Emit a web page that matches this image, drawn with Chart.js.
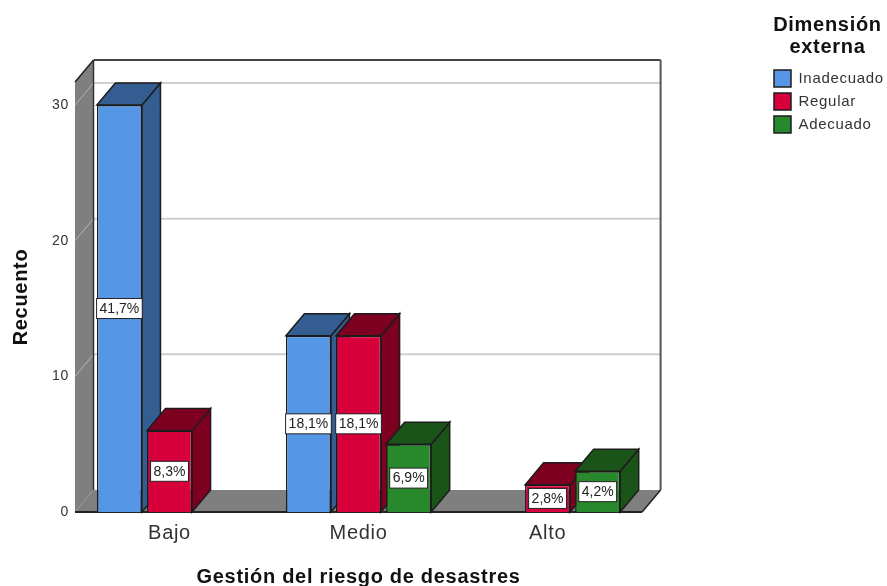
<!DOCTYPE html>
<html>
<head>
<meta charset="utf-8">
<style>
  html, body { margin: 0; padding: 0; background: #fff; }
  #wrap { width: 887px; height: 586px; position: relative; }
</style>
<script src="https://cdn.jsdelivr.net/npm/chart.js@4"></script>
</head>
<body>
<div id="wrap"><canvas id="chart"></canvas></div>
<script>
const categories = ['Bajo', 'Medio', 'Alto']
const inadecuado = [30, 13, null]
const regular = [6, 13, 2]
const adecuado = [null, 5, 3]
const inadecuadoPct = ['41,7%', '18,1%', null]
const regularPct = ['8,3%', '18,1%', '2,8%']
const adecuadoPct = [null, '6,9%', '4,2%']
const yTicks = [0, 10, 20, 30]

const FONT = '"Liberation Sans", Arial, sans-serif'
const DX = 18.5
const DY = -22
const pctLabels = [inadecuadoPct, regularPct, adecuadoPct]
const sideColors = ['#345e92', '#7d0020', '#1a5418']
const edge = '#1c1c1c'

function poly(ctx, pts, fill, stroke, lw) {
  ctx.beginPath()
  pts.forEach((p, i) => i ? ctx.lineTo(p[0], p[1]) : ctx.moveTo(p[0], p[1]))
  ctx.closePath()
  if (fill) { ctx.fillStyle = fill; ctx.fill() }
  if (stroke) { ctx.strokeStyle = stroke; ctx.lineWidth = lw || 1.5; ctx.stroke() }
}

function line(ctx, x1, y1, x2, y2, color, lw) {
  ctx.beginPath()
  ctx.moveTo(x1, y1)
  ctx.lineTo(x2, y2)
  ctx.strokeStyle = color
  ctx.lineWidth = lw
  ctx.stroke()
}

const box3d = {
  id: 'box3d',
  afterLayout(chart) {
    // the legend sits far to the right of the plot, apart from the depth of the box
    const l = chart.legend
    const dx = 768 - l.left
    l.left += dx
    l.right += dx
    const dy = 8 - l.top
    l.top += dy
    l.bottom += dy
  },
  beforeDraw(chart) {
    chart.ctx.letterSpacing = '0.7px'
  },
  beforeDatasetsDraw(chart) {
    const { ctx, chartArea: a, scales } = chart
    const y = scales.y
    const x0 = a.left, x1 = a.right, y0 = a.bottom, yTop = a.top
    ctx.save()
    // left wall and floor
    poly(ctx, [[x0, yTop], [x0 + DX, yTop + DY], [x0 + DX, y0 + DY], [x0, y0]], '#7f7f7f')
    poly(ctx, [[x0, y0], [x0 + DX, y0 + DY], [x1 + DX, y0 + DY], [x1, y0]], '#7f7f7f')
    // grid on the wall and the back
    yTicks.slice(1).forEach(v => {
      const py = y.getPixelForValue(v)
      line(ctx, x0, py, x0 + DX, py + DY, '#b5b5b5', 1)
      line(ctx, x0 + DX, py + DY, x1 + DX, py + DY, '#cfcfcf', 2)
    })
    line(ctx, x0, yTop, x0 + DX, yTop + DY, '#222', 1.5)
    line(ctx, x0 + DX, yTop + DY, x1 + DX, yTop + DY, '#444', 2)
    line(ctx, x0 + DX, yTop + DY, x0 + DX, y0 + DY, '#333', 1.5)
    line(ctx, x1 + DX, yTop + DY, x1 + DX, y0 + DY, '#555', 2)
    line(ctx, x1, y0, x1 + DX, y0 + DY, '#222', 1.5)
    line(ctx, x0, y0, x1, y0, '#222', 2)
    // side and top faces of the bars, left to right
    categories.forEach((c, j) => {
      chart.data.datasets.forEach((ds, i) => {
        if (ds.data[j] == null) return
        const b = chart.getDatasetMeta(i).data[j]
        const l = b.x - b.width / 2, r = b.x + b.width / 2
        poly(ctx, [[r, b.y], [r + DX, b.y + DY], [r + DX, b.base + DY], [r, b.base]], sideColors[i], edge)
        poly(ctx, [[l, b.y], [l + DX, b.y + DY], [r + DX, b.y + DY], [r, b.y]], sideColors[i], edge)
      })
    })
    ctx.restore()
  },
  afterDatasetsDraw(chart) {
    const { ctx } = chart
    ctx.save()
    ctx.font = '14px ' + FONT
    ctx.letterSpacing = '0px'
    ctx.textAlign = 'center'
    ctx.textBaseline = 'middle'
    pctLabels.forEach((labels, i) => {
      labels.forEach((txt, j) => {
        if (!txt) return
        const b = chart.getDatasetMeta(i).data[j]
        const cy = (b.y + b.base) / 2
        const w = ctx.measureText(txt).width + 6
        ctx.fillStyle = '#fff'
        ctx.fillRect(b.x - w / 2, cy - 10, w, 20)
        ctx.strokeStyle = '#222'
        ctx.lineWidth = 1
        ctx.strokeRect(b.x - w / 2, cy - 10, w, 20)
        ctx.fillStyle = '#222'
        ctx.fillText(txt, b.x, cy + 0.5)
      })
    })
    ctx.restore()
  }
}

new Chart(document.getElementById('chart'), {
  type: 'bar',
  plugins: [box3d],
  data: {
    labels: categories,
    datasets: [
      { label: 'Inadecuado', data: inadecuado, backgroundColor: '#5596e6', borderColor: edge, borderWidth: 1.5 },
      { label: 'Regular', data: regular, backgroundColor: '#d7003a', borderColor: edge, borderWidth: 1.5 },
      { label: 'Adecuado', data: adecuado, backgroundColor: '#27892c', borderColor: edge, borderWidth: 1.5 }
    ]
  },
  options: {
    responsive: true,
    maintainAspectRatio: false,
    animation: false,
    layout: { padding: { top: 82, right: 126, bottom: 0, left: 0 } },
    datasets: { bar: { categoryPercentage: 0.795, barPercentage: 0.9 } },
    scales: {
      x: {
        grid: { display: false },
        border: { display: false },
        ticks: { color: '#333', font: { family: FONT, size: 20 }, padding: 1 },
        title: {
          display: true,
          text: 'Gestión del riesgo de desastres',
          color: '#111',
          font: { family: FONT, size: 20, weight: 'bold' },
          padding: { top: 0, bottom: -3 }
        },
        afterFit(scale) { scale.height = 74 }
      },
      y: {
        min: 0,
        max: 31.7,
        afterBuildTicks(scale) { scale.ticks = yTicks.map(value => ({ value })) },
        grid: { display: false },
        border: { display: false },
        ticks: { color: '#333', font: { family: FONT, size: 14 }, padding: -2 },
        title: {
          display: true,
          text: 'Recuento',
          color: '#111',
          font: { family: FONT, size: 20, weight: 'bold' },
          padding: { top: 9, bottom: 0 }
        },
        afterFit(scale) { scale.width = 75 }
      }
    },
    plugins: {
      tooltip: { enabled: false },
      legend: {
        position: 'right',
        align: 'start',
        title: {
          display: true,
          text: ['Dimensión', 'externa'],
          color: '#111',
          position: 'center',
          font: { family: FONT, size: 20, weight: 'bold', lineHeight: 1.1 },
          padding: { top: 7, bottom: 27 }
        },
        labels: {
          color: '#333',
          font: { family: FONT, size: 15 },
          boxWidth: 17,
          boxHeight: 17,
          padding: 6
        }
      }
    }
  }
})
</script>
</body>
</html>
